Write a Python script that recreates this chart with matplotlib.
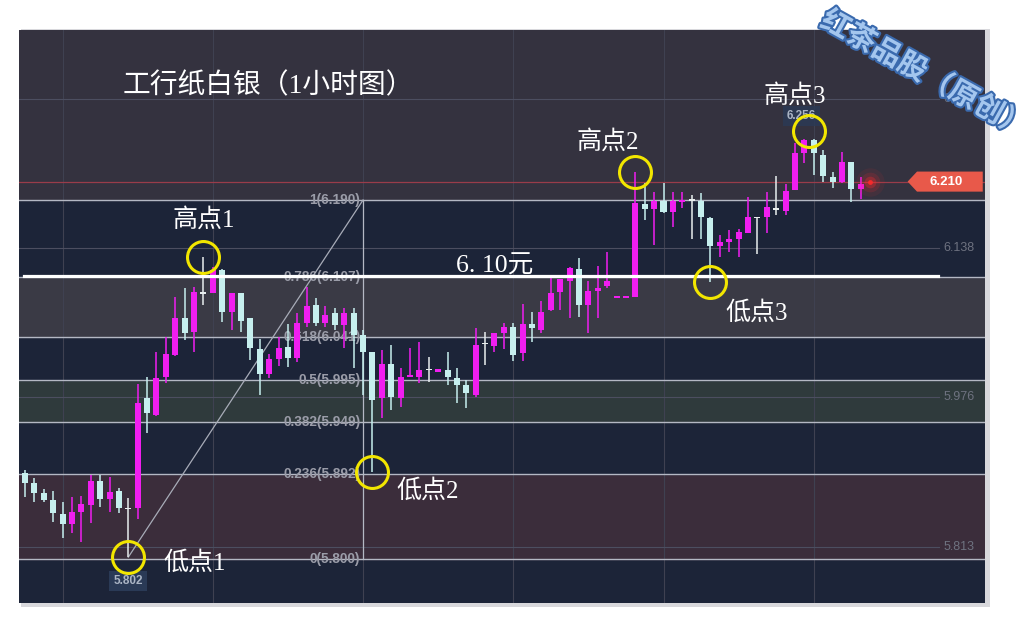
import matplotlib
matplotlib.use("Agg")
import matplotlib.pyplot as plt
import matplotlib.patheffects as pe
from matplotlib.patches import Polygon, Rectangle
import numpy as np

# 1h candles
opens = [5.893, 5.883, 5.872, 5.864, 5.849, 5.838, 5.851, 5.859, 5.885, 5.865,
         5.874, 5.855, 5.855, 5.975, 5.956, 5.998, 6.022, 6.062, 6.047, 6.089,
         6.089, 6.114, 6.068, 6.089, 6.062, 6.028, 6.001, 6.017, 6.030, 6.018,
         6.056, 6.076, 6.056, 6.067, 6.054, 6.067, 6.043, 6.025, 5.975, 6.012,
         5.975, 5.998, 5.998, 6.006, 6.003, 6.005, 5.997, 5.989, 5.978, 6.034,
         6.031, 6.046, 6.052, 6.024, 6.055, 6.049, 6.071, 6.090, 6.102, 6.115,
         6.076, 6.091, 6.097, 6.084, 6.084, 6.085, 6.186, 6.180, 6.189, 6.177,
         6.188, 6.190, 6.189, 6.170, 6.140, 6.144, 6.148, 6.154, 6.171, 6.172,
         6.180, 6.178, 6.201, 6.241, 6.255, 6.239, 6.215, 6.210, 6.231, 6.202]
highs = [5.897, 5.888, 5.876, 5.874, 5.862, 5.867, 5.868, 5.891, 5.891, 5.889,
         5.877, 5.866, 5.990, 5.998, 6.025, 6.041, 6.085, 6.094, 6.095, 6.128,
         6.117, 6.115, 6.089, 6.089, 6.062, 6.039, 6.023, 6.041, 6.055, 6.067,
         6.095, 6.084, 6.075, 6.073, 6.073, 6.073, 6.049, 6.025, 6.027, 6.032,
         6.007, 6.029, 6.036, 6.019, 6.006, 6.025, 6.007, 5.994, 6.051, 6.047,
         6.046, 6.056, 6.056, 6.077, 6.068, 6.080, 6.105, 6.104, 6.117, 6.127,
         6.102, 6.118, 6.134, 6.085, 6.085, 6.220, 6.208, 6.199, 6.208, 6.199,
         6.199, 6.195, 6.198, 6.172, 6.152, 6.157, 6.158, 6.193, 6.171, 6.199,
         6.216, 6.207, 6.252, 6.256, 6.256, 6.244, 6.220, 6.242, 6.231, 6.215]
lows = [5.867, 5.862, 5.862, 5.840, 5.823, 5.828, 5.818, 5.839, 5.856, 5.851,
        5.850, 5.802, 5.843, 5.937, 5.955, 5.991, 6.021, 6.038, 6.025, 6.076,
        6.089, 6.057, 6.049, 6.047, 6.016, 5.978, 5.997, 6.010, 6.009, 6.014,
        6.052, 6.053, 6.052, 6.049, 6.029, 6.007, 5.978, 5.895, 5.953, 5.962,
        5.965, 5.998, 5.991, 5.992, 6.003, 5.989, 5.969, 5.964, 5.976, 6.011,
        6.025, 6.028, 6.015, 6.015, 6.036, 6.046, 6.069, 6.071, 6.062, 6.063,
        6.046, 6.062, 6.094, 6.084, 6.084, 6.085, 6.168, 6.141, 6.176, 6.161,
        6.181, 6.148, 6.148, 6.101, 6.128, 6.134, 6.128, 6.154, 6.131, 6.154,
        6.174, 6.174, 6.201, 6.230, 6.217, 6.210, 6.203, 6.208, 6.188, 6.191]
closes = [5.883, 5.872, 5.864, 5.850, 5.838, 5.851, 5.860, 5.885, 5.865, 5.873,
          5.855, 5.855, 5.969, 5.959, 5.997, 6.023, 6.062, 6.046, 6.090, 6.089,
          6.114, 6.068, 6.089, 6.059, 6.029, 6.001, 6.017, 6.029, 6.018, 6.056,
          6.075, 6.056, 6.065, 6.054, 6.067, 6.043, 6.025, 5.973, 6.012, 5.976,
          5.998, 5.999, 6.005, 6.006, 6.006, 5.998, 5.989, 5.980, 6.032, 6.034,
          6.046, 6.052, 6.022, 6.055, 6.051, 6.068, 6.089, 6.104, 6.116, 6.076,
          6.091, 6.094, 6.102, 6.085, 6.085, 6.187, 6.180, 6.189, 6.177, 6.189,
          6.190, 6.190, 6.172, 6.140, 6.144, 6.148, 6.155, 6.172, 6.171, 6.182,
          6.180, 6.200, 6.241, 6.255, 6.241, 6.216, 6.210, 6.231, 6.202, 6.207]

fib_low, fib_high = 5.800, 6.190
fib_ratios = [0, 0.236, 0.382, 0.5, 0.618, 0.786, 1]
fib_start, fib_end = 11, 36          # candle index of the two anchors
right_ticks = [6.300, 6.138, 5.976, 5.813]
grid_x = [4, 20, 36, 52, 68, 84]
last_price = 6.210
line_price = 6.107                    # the hand drawn "6.10" line

# marked turning points: (label, candle index, which side)
points = [("高点1", 19, "high"), ("低点1", 11, "low"), ("低点2", 37, "low"),
          ("高点2", 65, "high"), ("低点3", 73, "low"), ("高点3", 84, "high")]

MAGENTA = "#f01ef0"
CYAN = "#c6efee"
WHITE = "#e8eeee"
NAVY = "#1c2438"
CJK = ["Liberation Serif", "Noto Sans CJK SC"]

fig = plt.figure(figsize=(10.34, 6.32), dpi=100)
fig.patch.set_facecolor("white")
# soft drop shadow of the screenshot panel
fig.patches.append(Rectangle((21 / 1034, 25 / 632), 969 / 1034, 578 / 632,
                             transform=fig.transFigure, fc="#d8d8dc", ec="none", zorder=-5))
ax = fig.add_axes([19 / 1034, 29 / 632, 966 / 1034, 573 / 632])
ax.set_zorder(1)
ax.set_xlim(-0.64, 102.24)
ax.set_ylim(5.7522, 6.3747)
ax.axis("off")

# background bands of the fibonacci tool
fib_prices = [fib_low + r * (fib_high - fib_low) for r in fib_ratios]
band_colors = [NAVY, "#3b2d3b", NAVY, "#2f3a3c", NAVY, "#3a3a45", NAVY]
ax.axhspan(5.7522, fib_prices[0], color=NAVY, zorder=0)
for i in range(len(fib_prices) - 1):
    ax.axhspan(fib_prices[i], fib_prices[i + 1], color=band_colors[i + 1], zorder=0)
ax.axhspan(fib_high, 6.3747, color="#34323f", zorder=0)

# grid
for gx in grid_x:
    ax.axvline(gx, color="#3f4151", lw=0.8, zorder=1)
for t in right_ticks:
    ax.plot([-0.64, 97.3], [t, t], color="#4c4e60", lw=0.8, zorder=1)
    ax.text(97.8, t, f"{t:.3f}", color="#6e7280", fontsize=9,
            family="Liberation Sans", va="center", ha="left", zorder=2)

# fib lines + labels
for r, p in zip(fib_ratios, fib_prices):
    ax.axhline(p, color="#b4b8c4", lw=1, zorder=2)
    ax.text(35.7, p, f"{r:g}({p:.3f})", color="#9a9ca8", fontsize=9.8,
            family="Liberation Sans", fontweight="bold", ha="right", va="center", zorder=3)
ax.plot([fib_start, fib_end], [lows[fib_start], fib_high], color="#a8acb8", lw=0.9, zorder=3)
ax.plot([fib_end, fib_end], [fib_high, fib_low], color="#b4b8c4", lw=0.9, zorder=3)

# last price line
ax.axhline(last_price, color="#9a3c4a", lw=0.9, zorder=2)

# candles
o = np.array(opens); h = np.array(highs); l = np.array(lows); c = np.array(closes)
x = np.arange(len(o))
colors = np.where(c > o, MAGENTA, np.where(c < o, CYAN, WHITE))
ax.vlines(x, l, h, colors=colors, lw=1.1, zorder=4)
body_h = np.maximum(np.abs(c - o), 0.0016)
ax.bar(x, body_h, width=0.64, bottom=np.minimum(o, c) - (c == o) * 0.0008,
       color=colors, linewidth=0, zorder=5)

# glowing current price dot
gx = len(o)
for s, a in [(420, 0.08), (200, 0.15), (70, 0.3), (12, 0.9)]:
    ax.scatter(gx, last_price, s=s, color="#ff2a2a", alpha=a, linewidths=0, zorder=6)

# price tag on the right
tag = Polygon([(94.0, last_price), (95.0, last_price + 0.0109), (102.0, last_price + 0.0109),
               (102.0, last_price - 0.0109), (95.0, last_price - 0.0109)],
              closed=True, fc="#e8594a", ec="none", zorder=7)
ax.add_patch(tag)
ax.text(98.1, last_price, f"{last_price:.3f}", color="white", fontsize=9.5,
        fontweight="bold", family="Liberation Sans", ha="center", va="center", zorder=8)

# hand-drawn 6.10 line
ax.plot([-0.1, 97.2], [line_price, line_price], color="white", lw=2.3, zorder=9)
ax.annotate("6. 10元", (50.3, line_price), xytext=(-2, 3), textcoords="offset points",
            color="white", fontsize=18.5, family=CJK, ha="center", va="baseline", zorder=10)

# extreme value boxes
ax.annotate(f"{lows[11]:.3f}", (11, lows[11]), xytext=(0, -17), textcoords="offset points",
            color="#aab4c4", fontsize=8.5, fontweight="bold", family="Liberation Sans",
            ha="center", va="center", zorder=8,
            bbox=dict(boxstyle="square,pad=0.35", fc="#2a3a56", ec="none"))
ax.annotate(f"{highs[83]:.3f}", (83, highs[83]), xytext=(-2, 17), textcoords="offset points",
            color="#aab4c4", fontsize=8.5, fontweight="bold", family="Liberation Sans",
            ha="center", va="center", zorder=8,
            bbox=dict(boxstyle="square,pad=0.35", fc="#2a3a56", ec="none", alpha=0.8))

# circles + labels for the turning points
offsets = {"高点1": (0, 27), "低点1": (48, -4), "低点2": (40, -14),
           "高点2": (-20, 22), "低点3": (33, -22), "高点3": (-10, 25)}
for name, i, side in points:
    py = highs[i] if side == "high" else lows[i]
    px = i
    if name == "高点3":
        px, py = i - 0.5, highs[i] + 0.009
    ax.plot(px, py, "o", ms=23, mfc="none", mec="#f2e600", mew=2.2, zorder=11)
    ax.annotate(name, (px, py), xytext=offsets[name], textcoords="offset points",
                color="white", fontsize=18, family=CJK, ha="center", va="center", zorder=11)

fig.text(268 / 1034, 1 - 86 / 632, "工行纸白银（1小时图）", color="white", fontsize=20,
         family=CJK, ha="center", va="center", zorder=5)

# watermark
fig.text(925 / 1034, 1 - 74 / 632, "红茶品股（原创）", color="#a4c6ee", fontsize=21,
         fontweight="bold", family="Noto Sans CJK SC", rotation=-29,
         ha="center", va="center", zorder=20,
         path_effects=[pe.withStroke(linewidth=3, foreground="#3a6aae")])

fig.savefig("out.png", dpi=100)
